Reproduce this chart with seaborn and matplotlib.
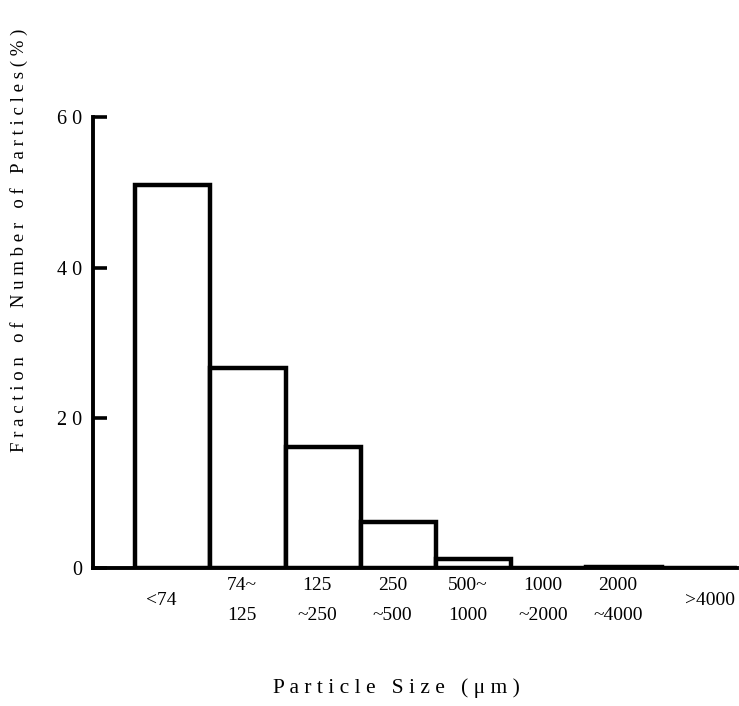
import matplotlib
matplotlib.use("Agg")
import matplotlib.pyplot as plt
import matplotlib.transforms as mtransforms
import pandas as pd
import seaborn as sns

# Size classes (µm) and fraction of number of particles (%)
size_classes = ["<74", "74~125", "125~250", "250~500", "500~1000",
                "1000~2000", "2000~4000", ">4000"]
fraction_pct = [51.0, 26.6, 16.1, 6.1, 1.3, 0.1, 0.2, 0.1]
class_labels = ["<74", "74~\n125", "125\n~250", "250\n~500", "500~\n1000",
                "1000\n~2000", "2000\n~4000", ">4000"]
y_ticks = [0, 20, 40, 60]

sns.set_theme(style="ticks", rc={"text.color": "black", "ytick.color": "black",
                                 "xtick.color": "black", "axes.labelcolor": "black"})
plt.rcParams["font.family"] = ["Liberation Serif", "DejaVu Serif"]

df = pd.DataFrame({"size": size_classes, "fraction": fraction_pct})

fig = plt.figure(figsize=(7.39, 7.06), dpi=100)
ax = fig.add_axes([0.126, 0.195, 0.871, 0.639])

sns.barplot(data=df, x="size", y="fraction", order=size_classes,
            color="white", edgecolor="black", linewidth=3.2,
            width=1.0, ax=ax, saturation=1)

ax.set_xlim(-1.06, 7.5)
ax.set_ylim(0, 60)
ax.set_yticks(y_ticks)
ax.set_yticklabels([" ".join(str(t)) for t in y_ticks], fontsize=14.5)
ax.tick_params(axis="y", direction="in", length=10, width=2.6, pad=8)
ax.set_xticks([])
ax.set_xlabel("")
ax.set_ylabel("")

for side in ["top", "right"]:
    ax.spines[side].set_visible(False)
for side in ["left", "bottom"]:
    ax.spines[side].set_linewidth(2.8)
    ax.spines[side].set_color("black")
    ax.spines[side].set_capstyle("projecting")

# Two-line class labels under each bar
trans = mtransforms.blended_transform_factory(ax.transData, ax.transAxes)
for i, lab in enumerate(class_labels):
    dx = -0.15 if i == 0 else (0.15 if i == len(class_labels) - 1 else -0.08)
    ax.text(i + dx, -0.071, lab, transform=trans, ha="center", va="center",
            fontsize=14, linespacing=2.0)

fig.text(0.537, 0.025, "P a r t i c l e   S i z e   ( μ m )",
         ha="center", va="center", fontsize=15.5)
fig.text(0.026, 0.66,
         "F r a c t i o n   o f   N u m b e r   o f   P a r t i c l e s ( % )",
         ha="center", va="center", rotation=90, fontsize=13.5)

fig.savefig("out.png", dpi=100, facecolor="white")
